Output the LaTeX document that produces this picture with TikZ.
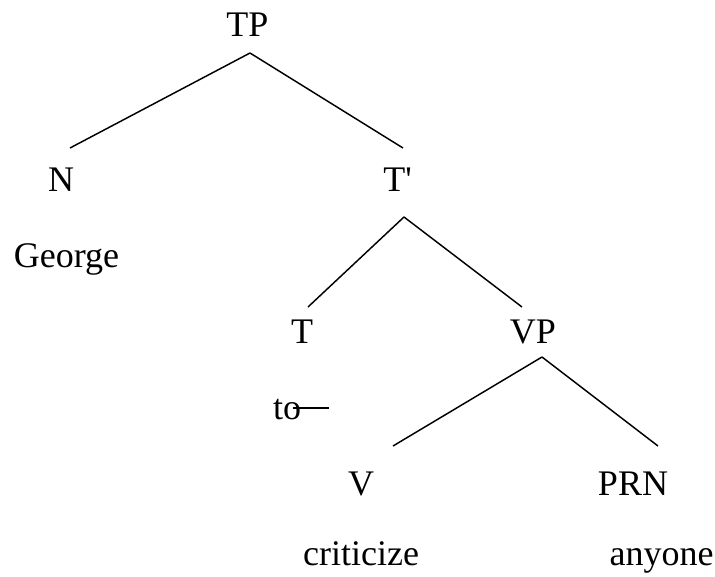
\documentclass[tikz,border=0pt]{standalone}
\usepackage{fontspec}
\setmainfont{Liberation Serif}
\usetikzlibrary{calc}

\tikzset{
  lbl/.style={anchor=base, inner sep=0pt, font=\fontsize{27}{32}\selectfont},
  branch/.style={line width=1.1pt}
}

\begin{document}
\begin{tikzpicture}[x=0.75pt,y=0.75pt,yscale=-1,xscale=1]
    \useasboundingbox (0,0) rectangle (715,576);

    % Text Node
    \node [lbl] (tp) at (247.5,36) {TP};
    % Text Node
    \node [lbl] (n) at (61,191) {N};
    % Text Node
    \node [lbl] (tbar) at (397.5,191) {T\textquotesingle};
    % Text Node
    \node [lbl] (george) at (66.5,267) {George};
    % Text Node
    \node [lbl] (t) at (302,343) {T};
    % Text Node
    \node [lbl] (vp) at (533,343) {VP};
    % Text Node
    \node [lbl] (to) at (287,419) {to};
    % Text Node
    \node [lbl] (v) at (361,495) {V};
    % Text Node
    \node [lbl] (prn) at (633,495) {PRN};
    % Text Node
    \node [lbl] (criticize) at (361,565) {criticize};
    % Text Node
    \node [lbl] (anyone) at (661.5,565) {anyone};

    %Straight Lines
    \draw [branch] ($(tp.base)+(2.5,17)$) -- ($(n.base)+(9,-43)$);
    \draw [branch] ($(tp.base)+(2.5,17)$) -- ($(tbar.base)+(5.5,-43)$);
    %Straight Lines
    \draw [branch] ($(tbar.base)+(6.5,26)$) -- ($(t.base)+(6,-36)$);
    \draw [branch] ($(tbar.base)+(6.5,26)$) -- ($(vp.base)+(-11,-36)$);
    %Straight Lines
    \draw [branch] ($(vp.base)+(9,14)$) -- ($(v.base)+(32,-49)$);
    \draw [branch] ($(vp.base)+(9,14)$) -- ($(prn.base)+(25,-49)$);

    % strike through
    \draw [branch] ($(to.base)+(6,-11)$) -- ($(to.base)+(42,-11)$);

\end{tikzpicture}
\end{document}
